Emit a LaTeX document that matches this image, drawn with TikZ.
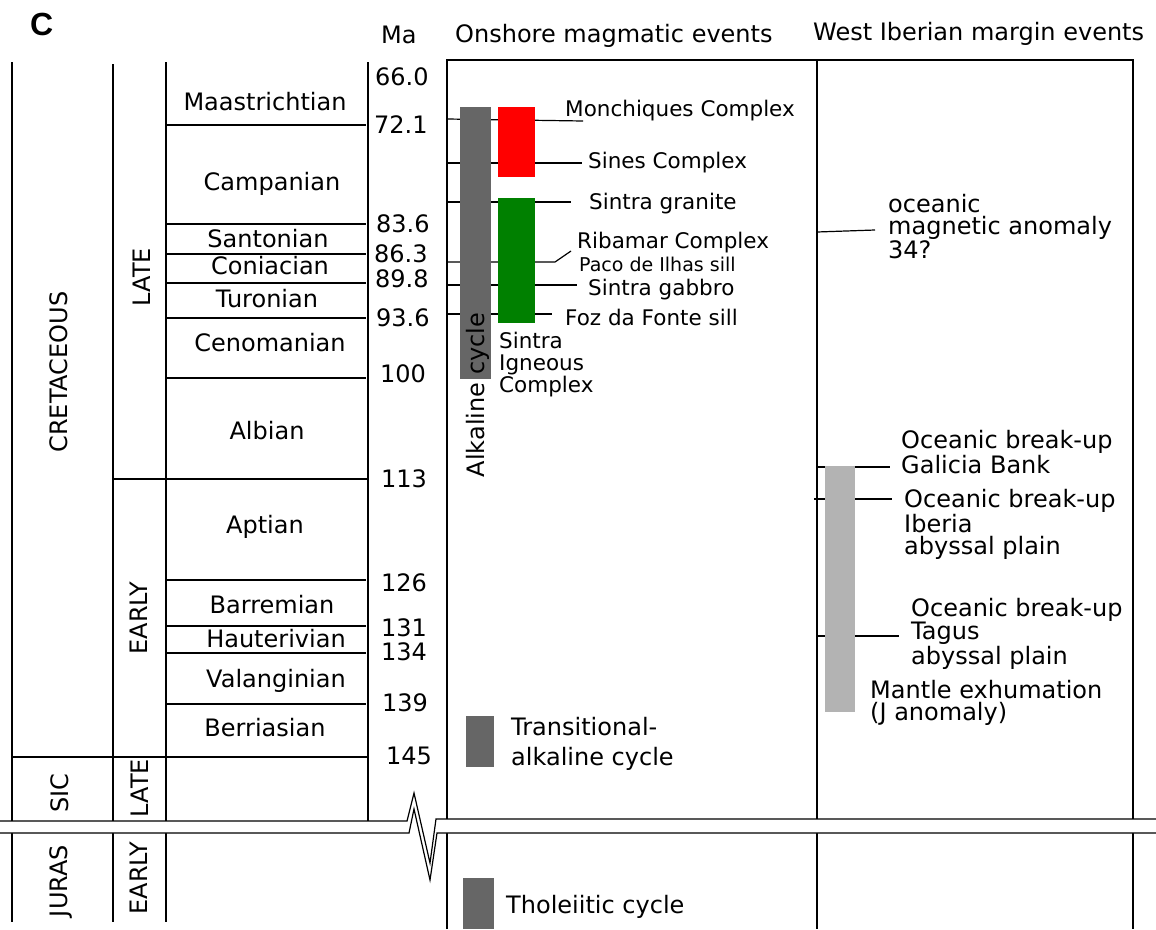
\documentclass[tikz,border=0pt]{standalone}
\usepackage{fontspec}
\setmainfont{DejaVu Sans}
\newfontfamily\panelfont{Liberation Sans}
\definecolor{alkgray}{HTML}{666666}
\definecolor{sicred}{HTML}{FF0000}
\definecolor{sicgreen}{HTML}{008000}
\definecolor{marggray}{HTML}{B3B3B3}

\begin{document}
\begin{tikzpicture}[x=1pt,y=-1pt,
    lbl/.style={font=\fontsize{24}{22}\selectfont,inner sep=0pt},
    stage/.style={lbl,anchor=base},
    age/.style={lbl,anchor=base west},
    vert/.style={lbl,anchor=base,rotate=90},
    evt/.style={font=\fontsize{21.5}{22}\selectfont,inner sep=0pt,anchor=base west,align=left},
    marg/.style={lbl,anchor=base west,align=left},
    rule/.style={line width=1.8pt},
    thin/.style={line width=1.2pt}]
\useasboundingbox (0,0) rectangle (1156,929);
\node[font=\panelfont\bfseries\fontsize{32}{32}\selectfont,inner sep=0pt,anchor=base west] (panel) at (30,35) {C};

%time scale
\draw[rule] (12,62)--(12,922) (113,64)--(113,922) (166,62)--(166,922) (368,62)--(368,827);
\foreach \y in {125,224,254,283,318,378,580,626,653,704}
    \draw[rule] (166,\y)--(366,\y);
\draw[rule] (113,479)--(368,479);
\draw[rule] (12,757)--(368,757);

\foreach \x/\y/\n in {265/110/Maastrichtian,272/190/Campanian,268/247/Santonian,
    270/274/Coniacian,267/307/Turonian,270/351/Cenomanian,267/439/Albian,265/533/Aptian,
    272/613/Barremian,276/647/Hauterivian,276/687/Valanginian,265/736/Berriasian}
    \node[stage] (\n) at (\x,\y) {\n};

\node[age] (ma) at (381,43) {Ma};
\foreach \x/\y/\t/\n in {375/85/66.0/a66,374/133/72.1/a72,376/232/83.6/a84,374/262/86.3/a86,
    375/287/89.8/a90,376/326/93.6/a94,380/382/100/a100,381/487/113/a113,381/591/126/a126,
    381/636/131/a131,381/660/134/a134,382/711/139/a139,386/764/145/a145}
    \node[age] (\n) at (\x,\y) {\t};

\node[vert] (cret) at (67,372) {CRETACEOUS};
\node[vert] (late) at (150,277) {LATE};
\node[vert] (early) at (147,618) {EARLY};
\node[vert] (sic) at (68,793) {SIC};
\node[vert] (latej) at (148,788) {LATE};
\node[vert] (juras) at (67,881) {JURAS};
\node[vert] (earlyj) at (147,878) {EARLY};

%onshore
\node[age] (onshore) at (455,42) {Onshore magmatic events};
\draw[rule] (447,929)--(447,60)--(1133,60)--(1133,929);
\draw[thin] (447,119)--(583,121);
\draw[thin] (447,163)--(582,163);
\draw[thin] (447,202)--(571,202);
\draw[thin] (447,262)--(555,262)--(571,251);
\draw[thin] (447,285)--(577,285);
\draw[thin] (447,314)--(552,314);
\fill[alkgray] (460,107) rectangle (491,379);
\fill[sicred] (498,107) rectangle (535,177);
\fill[sicgreen] (498,198) rectangle (535,323);
\node[vert] (alk) at (484,395) {Alkaline cycle};

\node[evt] (monch) at (565,116) {Monchiques Complex};
\node[evt] (sines) at (588,168) {Sines Complex};
\node[evt] (granite) at (589,209) {Sintra granite};
\node[evt] (ribamar) at (577,248) {Ribamar Complex};
\node[evt,font=\fontsize{19}{20}\selectfont] (paco) at (579,271) {Paco de Ilhas sill};
\node[evt] (gabbro) at (588,295) {Sintra gabbro};
\node[evt] (foz) at (565,325) {Foz da Fonte sill};
\node[evt] (sic) at (499,392) {Sintra\\Igneous\\Complex};

\fill[alkgray] (466,716) rectangle (494,767);
\node[marg,font=\fontsize{24}{30}\selectfont] (trans) at (511,765) {Transitional-\\alkaline cycle};
\fill[alkgray] (463,878) rectangle (494,929);
\node[marg] (thol) at (506,913) {Tholeiitic cycle};

%west iberian margin
\node[age] (west) at (813,40) {West Iberian margin events};
\draw[rule] (817,60)--(817,929);
\draw[line width=2.8pt] (817,60)--(817,500);
\draw[thin] (817,232)--(875,230);
\draw[thin] (817,467)--(890,467);
\draw[thin] (814,499)--(892,499);
\draw[thin] (817,636)--(899,636);
\fill[marggray] (825,466) rectangle (855,712);
\node[marg] (anom) at (888,258) {oceanic\\magnetic anomaly\\34?};
\node[marg] (galicia) at (901,473) {Oceanic break-up\\Galicia Bank};
\node[marg] (iberia) at (904,554) {Oceanic break-up\\Iberia\\abyssal plain};
\node[marg] (tagus) at (911,664) {Oceanic break-up\\Tagus\\abyssal plain};
\node[marg] (mantle) at (870,720) {Mantle exhumation\\(J anomaly)};

%break
\fill[white] (0,821)--(407,821)--(414,793)--(430,863)--(436,819)--(1156,819)
    --(1156,833)--(437,833)--(430,880)--(414,809)--(409,833)--(0,833)--cycle;
\draw[thin] (0,821)--(407,821)--(414,793)--(430,863)--(436,819)--(1156,819);
\draw[thin] (0,833)--(409,833)--(414,809)--(430,880)--(437,833)--(1156,833);
\end{tikzpicture}
\end{document}
